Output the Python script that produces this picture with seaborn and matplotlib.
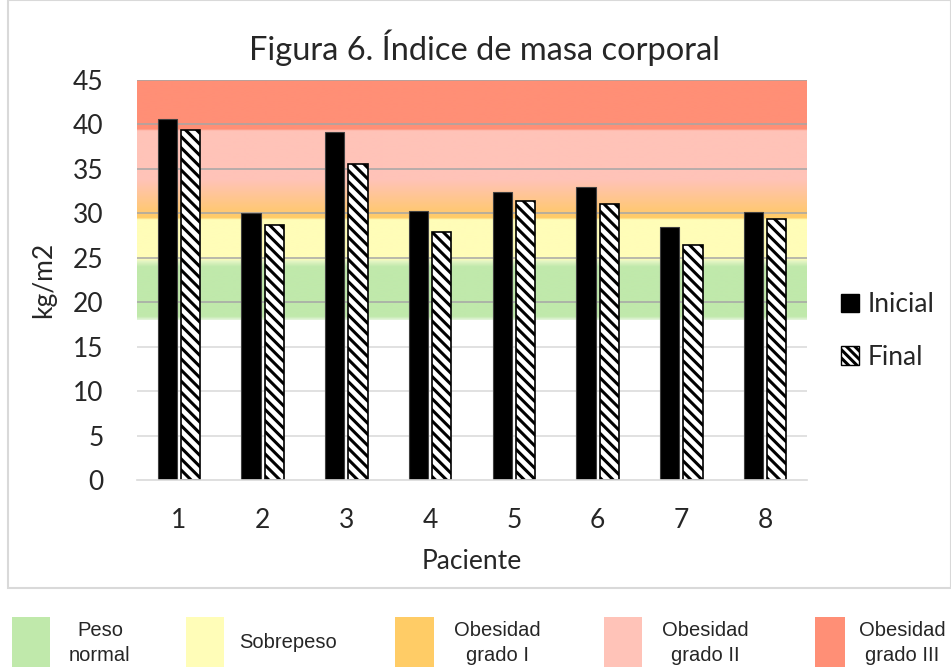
"""
Figura 6: índice de masa corporal inicial vs final por paciente,
sobre bandas de clasificación de IMC.
"""

import numpy as np
import pandas as pd
import matplotlib
matplotlib.use("Agg")
import matplotlib.pyplot as plt
import matplotlib.patches as mpatches
from matplotlib.colors import LinearSegmentedColormap
import seaborn as sns

# ──────────────────────────────────────────────────────────
#  Data
# ──────────────────────────────────────────────────────────
pacientes = ["1", "2", "3", "4", "5", "6", "7", "8"]
imc_inicial = [40.6, 30.0, 39.1, 30.3, 32.4, 33.0, 28.5, 30.2]
imc_final   = [39.4, 28.7, 35.5, 27.9, 31.4, 31.1, 26.4, 29.4]
momentos = ["Inicial", "Final"]

# bandas de IMC (nombre, color)
band_names  = ["Peso\nnormal", "Sobrepeso", "Obesidad\ngrado I", "Obesidad\ngrado II", "Obesidad\ngrado III"]
band_colors = ["#C0E9AB", "#FFFDB8", "#FFCC66", "#FFC3B8", "#FF8F76"]
# paradas del degradado de fondo (valor de IMC, color)
grad_stops = [
    (18.0, "#E6F5DE"), (18.4, "#C0E9AB"), (24.0, "#C0E9AB"), (24.6, "#E4F5C4"),
    (24.9, "#FFFDB8"), (29.3, "#FFFDB8"), (29.5, "#FFCC66"), (30.3, "#FFC874"),
    (33.8, "#FFC3B8"), (39.3, "#FFC3B8"), (39.5, "#FF8F76"), (45.0, "#FF8F76"),
]

yticks = [0, 5, 10, 15, 20, 25, 30, 35, 40, 45]

df = pd.DataFrame({"Paciente": pacientes, "Inicial": imc_inicial, "Final": imc_final})
df = df.melt(id_vars="Paciente", value_vars=momentos, var_name="Momento", value_name="IMC")

# ──────────────────────────────────────────────────────────
#  Style
# ──────────────────────────────────────────────────────────
sns.set_theme(style="white")
plt.rcParams["font.family"] = ["Lato", "DejaVu Sans"]
plt.rcParams["hatch.linewidth"] = 2.2

W, H = 951, 669
fig = plt.figure(figsize=(W / 100, H / 100), dpi=100)
ax = fig.add_axes([137 / W, 1 - 480 / H, 670 / W, 400 / H])

# fondo con degradado de bandas
y0, y1 = grad_stops[0][0], grad_stops[-1][0]
cmap = LinearSegmentedColormap.from_list(
    "imc", [((v - y0) / (y1 - y0), c) for v, c in grad_stops], N=1024
)
grad = np.linspace(0, 1, 1024).reshape(-1, 1)
ax.imshow(grad, cmap=cmap, origin="lower", aspect="auto",
          extent=[-0.5, 7.5, y0, y1], zorder=0, interpolation="bilinear")

# cuadrícula: más oscura sobre las bandas
for t in yticks[1:]:
    ax.axhline(t, color="#A6A6A6" if t >= y0 else "#D9D9D9", lw=1.1, zorder=1)

sns.barplot(
    data=df, x="Paciente", y="IMC", hue="Momento", hue_order=momentos,
    palette=["black", "white"], width=0.56, gap=0.18, errorbar=None,
    legend=False, ax=ax, zorder=2,
)
for bar in ax.containers[0]:
    bar.set_edgecolor("#404040")
    bar.set_linewidth(0.8)
for bar in ax.containers[1]:
    bar.set_hatch("\\\\\\")
    bar.set_edgecolor("black")
    bar.set_linewidth(1.2)

ax.set_xlim(-0.5, 7.5)
ax.set_ylim(0, 45)
ax.set_yticks(yticks)
ax.tick_params(axis="y", length=0, labelsize=19, pad=24)
ax.tick_params(axis="x", length=0, labelsize=19, pad=20)
for side in ["top", "right", "left"]:
    ax.spines[side].set_visible(False)
ax.spines["bottom"].set_color("#D9D9D9")
ax.spines["bottom"].set_linewidth(1.2)
ax.set_xlabel("Paciente", fontsize=19, labelpad=12)
ax.set_ylabel("kg/m2", fontsize=19, labelpad=12)

fig.text(484 / W, 1 - 48 / H, "Figura 6. Índice de masa corporal",
         ha="center", va="center", fontsize=23.5)

# leyenda Inicial / Final
handles = [
    mpatches.Patch(facecolor="black", edgecolor="black", label="Inicial"),
    mpatches.Patch(facecolor="white", edgecolor="black", hatch="\\\\\\\\", label="Final"),
]
fig.legend(handles=handles, loc="center left", bbox_to_anchor=(817 / W, 1 - 331 / H),
           frameon=False, fontsize=19, handlelength=0.7, handleheight=0.7,
           handletextpad=0.3, labelspacing=1.05)

# marco del gráfico
fig.patches.append(mpatches.Rectangle((8 / W, 1 - 588 / H), 1 - 8 / W, 588 / H,
                                      transform=fig.transFigure, fill=False,
                                      edgecolor="#D9D9D9", lw=1.5))

# leyenda de bandas al pie
sq_x = [12, 186, 395, 604, 815]
sq_w = [38, 38, 39, 38, 30]
txt_x = [100, 288, 497, 705, 902]
for name, color, sx, sw, tx in zip(band_names, band_colors, sq_x, sq_w, txt_x):
    fig.patches.append(mpatches.Rectangle((sx / W, 1 - 667 / H), sw / W, 50 / H,
                                          transform=fig.transFigure,
                                          facecolor=color, edgecolor="none"))
    fig.text(tx / W, 1 - 643 / H, name, ha="center", va="center",
             fontsize=14.5, family=["Liberation Sans", "DejaVu Sans"], linespacing=1.35)

fig.savefig("out.png", dpi=100)
